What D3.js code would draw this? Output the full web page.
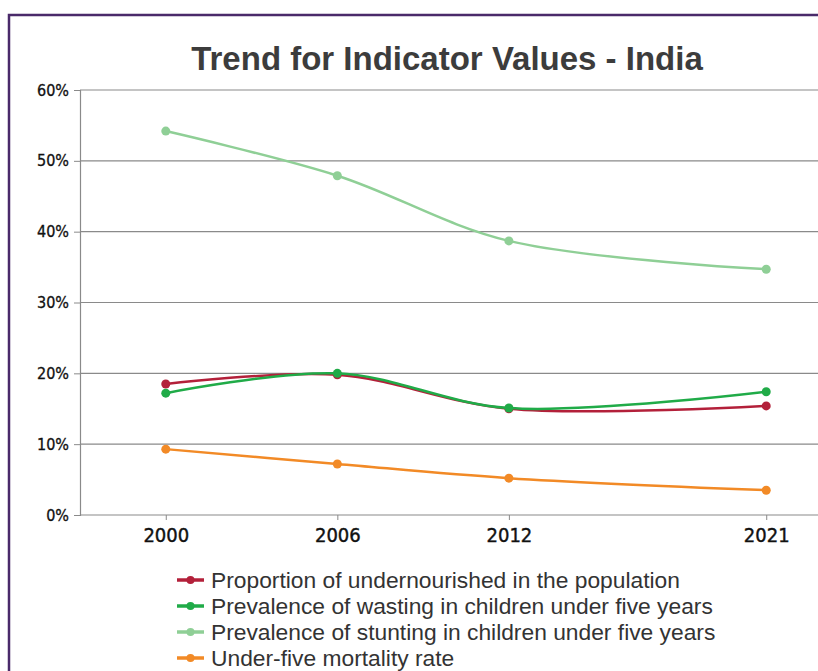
<!DOCTYPE html>
<html>
<head>
<meta charset="utf-8">
<script src="https://cdn.jsdelivr.net/npm/d3@7"></script>
<style>
  body { margin: 0; background: #fff; }
  svg { display: block; }
</style>
</head>
<body>
<svg width="818" height="671"></svg>
<script>
// data
var years = [2000, 2006, 2012, 2021];
var undernourished = [18.5, 19.8, 15.0, 15.4];
var wasting = [17.2, 20.0, 15.1, 17.4];
var stunting = [54.2, 47.9, 38.7, 34.7];
var mortality = [9.3, 7.2, 5.2, 3.5];
var seriesNames = [
  "Proportion of undernourished in the population",
  "Prevalence of wasting in children under five years",
  "Prevalence of stunting in children under five years",
  "Under-five mortality rate"
];
var yTicks = [0, 10, 20, 30, 40, 50, 60];

var colors = ["#b3203a", "#20ab48", "#8fcf96", "#f28a26"];
var series = [undernourished, wasting, stunting, mortality];

var svg = d3.select("svg");

// purple frame
svg.append("rect")
  .attr("x", 9).attr("y", 15)
  .attr("width", 830).attr("height", 700)
  .attr("fill", "none")
  .attr("stroke", "#4a2a6a")
  .attr("stroke-width", 2.5);

// title
svg.append("text")
  .attr("x", 447).attr("y", 70)
  .attr("text-anchor", "middle")
  .style("font-family", "Liberation Sans, Arial, sans-serif")
  .style("font-weight", "bold")
  .style("font-size", "33px")
  .attr("fill", "#3c3c3c")
  .text("Trend for Indicator Values - India");

var x = d3.scaleLinear().domain([1997, 2024]).range([80, 852]);
var y = d3.scaleLinear().domain([0, 60]).range([515, 90]);

// gridlines
svg.append("g")
  .selectAll("line")
  .data(yTicks)
  .enter()
  .append("line")
    .attr("x1", 80).attr("x2", 818)
    .attr("y1", function(d){ return y(d) })
    .attr("y2", function(d){ return y(d) })
    .attr("stroke", "#8a8a8a")
    .attr("stroke-width", 1.2);

// y axis
var yAxis = svg.append("g")
  .attr("transform", "translate(80,0)")
  .call(d3.axisLeft(y).tickValues(yTicks).tickSize(6).tickFormat(function(d){ return d + "%" }));
yAxis.select(".domain").attr("stroke", "#8a8a8a").attr("stroke-width", 1.2);
yAxis.selectAll(".tick line").attr("stroke", "#8a8a8a");
yAxis.selectAll("text")
  .attr("x", -11)
  .attr("fill", "#111")
  .attr("stroke", "#111")
  .attr("stroke-width", 0.3)
  .style("font-family", "DejaVu Sans Condensed, DejaVu Sans, sans-serif")
  .style("font-size", "16px");

// x axis
var xAxis = svg.append("g")
  .attr("transform", "translate(0,515)")
  .call(d3.axisBottom(x).tickValues(years).tickSize(5).tickFormat(d3.format("d")));
xAxis.select(".domain").remove();
xAxis.selectAll(".tick line").attr("stroke", "#8a8a8a");
xAxis.selectAll("text")
  .attr("y", 13)
  .attr("fill", "#111")
  .attr("stroke", "#111")
  .attr("stroke-width", 0.4)
  .style("font-family", "DejaVu Sans Condensed, DejaVu Sans, sans-serif")
  .style("font-size", "20px");

// lines
var line = d3.line()
  .x(function(d, i){ return x(years[i]) })
  .y(function(d){ return y(d) })
  .curve(d3.curveCatmullRom.alpha(0.5));

var order = [3, 2, 0, 1];
order.forEach(function(k){
  svg.append("path")
    .datum(series[k])
    .attr("d", line)
    .attr("fill", "none")
    .attr("stroke", colors[k])
    .attr("stroke-width", 2.5);
  svg.append("g")
    .selectAll("circle")
    .data(series[k])
    .enter()
    .append("circle")
      .attr("cx", function(d, i){ return x(years[i]) })
      .attr("cy", function(d){ return y(d) })
      .attr("r", 4.5)
      .attr("fill", colors[k]);
});

// legend
var legend = svg.append("g")
  .selectAll("g")
  .data(seriesNames)
  .enter()
  .append("g")
    .attr("transform", function(d, i){ return "translate(177," + (580 + i * 26) + ")" });
legend.append("line")
  .attr("x1", 0).attr("x2", 27)
  .attr("stroke", function(d, i){ return colors[i] })
  .attr("stroke-width", 3.5);
legend.append("circle")
  .attr("cx", 13.5).attr("r", 4)
  .attr("fill", function(d, i){ return colors[i] });
legend.append("text")
  .attr("x", 34).attr("y", 7.5)
  .attr("fill", "#333")
  .style("font-family", "Liberation Sans, Arial, sans-serif")
  .style("font-size", "22.8px")
  .text(function(d){ return d });
</script>
</body>
</html>
